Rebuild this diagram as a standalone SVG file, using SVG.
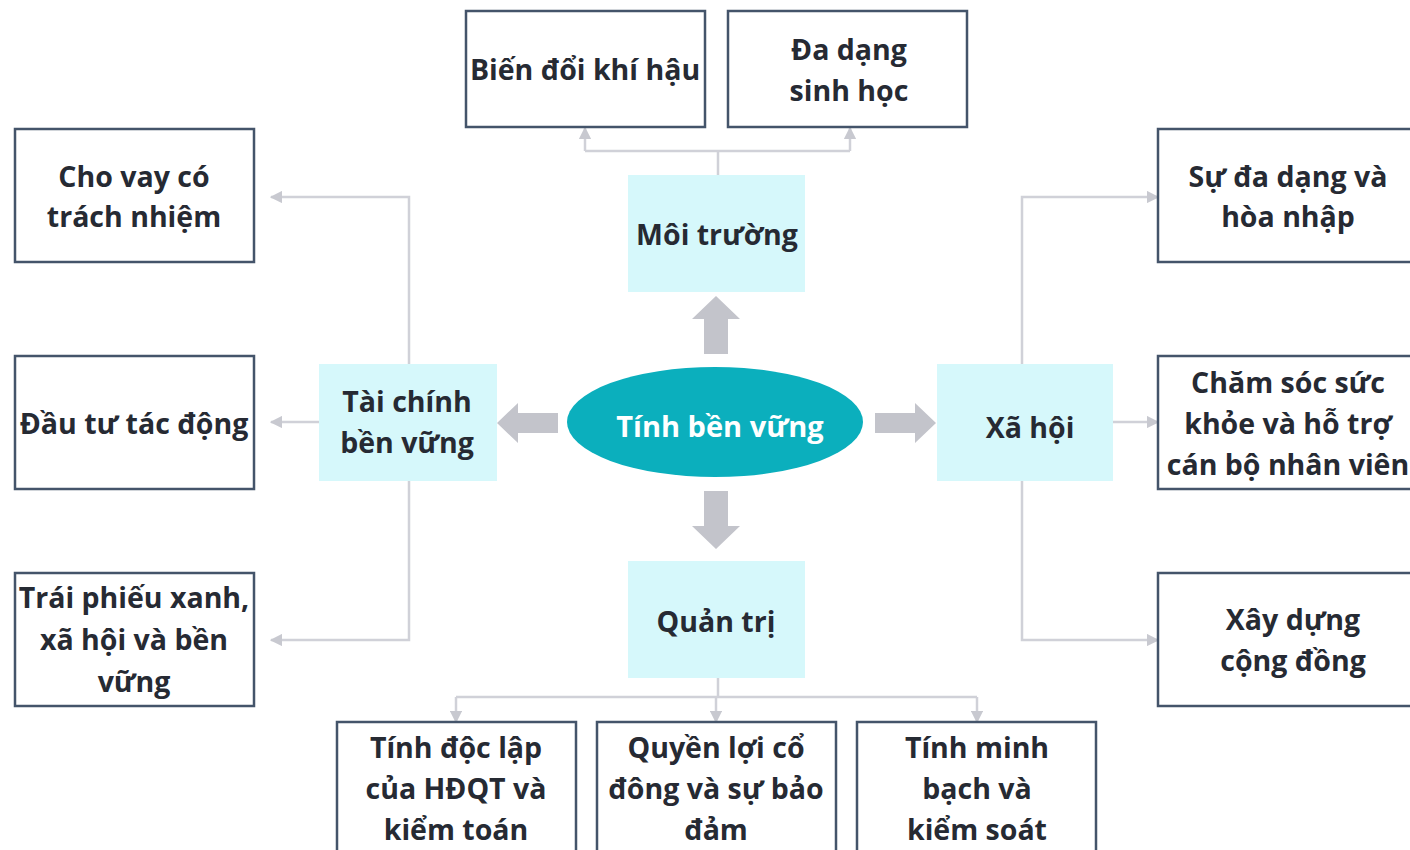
<svg xmlns="http://www.w3.org/2000/svg" width="1410" height="850" viewBox="0 0 1410 850">
<style>
.box{fill:#ffffff;stroke:#44546a;stroke-width:2.5}
.cat{fill:#d6f8fb;stroke:none}
.t{font-family:"Open Sans",Lato,"DejaVu Sans",sans-serif;font-weight:bold;font-size:28.5px;fill:#262a33;text-anchor:middle}
.w{fill:#ffffff;font-size:29px}
.ln{fill:none;stroke:#d0d1d8;stroke-width:2.5}
.blk{fill:#c3c4cb}
</style>
<defs>
<marker id="ah" viewBox="0 0 10 10" refX="9" refY="5" markerWidth="5" markerHeight="5" orient="auto" markerUnits="strokeWidth">
<path d="M0,0 L10,5 L0,10 z" fill="#c8c9d0"/>
</marker>
</defs>
<rect width="1410" height="850" fill="#ffffff"/>
<g id="connectors">
<path class="ln" d="M718,175 V151 M585,151 H850" />
<path class="ln" d="M585,151 V128" marker-end="url(#ah)"/>
<path class="ln" d="M850,151 V128" marker-end="url(#ah)"/>
<path class="ln" d="M409,364 V197 H271" marker-end="url(#ah)"/>
<path class="ln" d="M319,422 H271" marker-end="url(#ah)"/>
<path class="ln" d="M409,481 V640 H271" marker-end="url(#ah)"/>
<path class="ln" d="M1022,364 V197 H1158" marker-end="url(#ah)"/>
<path class="ln" d="M1113,422 H1158" marker-end="url(#ah)"/>
<path class="ln" d="M1022,481 V640 H1158" marker-end="url(#ah)"/>
<path class="ln" d="M718,678 V697 M456,697 H977" />
<path class="ln" d="M456,697 V722" marker-end="url(#ah)"/>
<path class="ln" d="M716,697 V722" marker-end="url(#ah)"/>
<path class="ln" d="M977,697 V722" marker-end="url(#ah)"/>
<polygon class="blk" points="716,296 740,319 728,319 728,354 704,354 704,319 692,319"/>
<polygon class="blk" points="716,549 740,526 728,526 728,491 704,491 704,526 692,526"/>
<polygon class="blk" points="497,423 518,403 518,413 558,413 558,433 518,433 518,443"/>
<polygon class="blk" points="936,423 915,403 915,413 875,413 875,433 915,433 915,443"/>
</g>
<g id="center">
<ellipse cx="715" cy="422" rx="148" ry="55" fill="#0bafbd"/>
<text class="t w" x="720" y="437">Tính bền vững</text>
</g>
<g id="moi-truong"><rect class="cat" x="628" y="175" width="177" height="117"/><text class="t" x="717" y="245">Môi trường</text></g>
<g id="tai-chinh"><rect class="cat" x="319" y="364" width="178" height="117"/><text class="t" x="407" y="412">Tài chính</text><text class="t" x="407" y="453">bền vững</text></g>
<g id="xa-hoi"><rect class="cat" x="937" y="364" width="176" height="117"/><text class="t" x="1030" y="438">Xã hội</text></g>
<g id="quan-tri"><rect class="cat" x="628" y="561" width="177" height="117"/><text class="t" x="716" y="632">Quản trị</text></g>
<g id="bien-doi"><rect class="box" x="466" y="11" width="239" height="116"/><text class="t" x="585" y="80">Biến đổi khí hậu</text></g>
<g id="da-dang"><rect class="box" x="728" y="11" width="239" height="116"/><text class="t" x="849" y="60">Đa dạng</text><text class="t" x="849" y="101">sinh học</text></g>
<g id="cho-vay"><rect class="box" x="15" y="129" width="239" height="133"/><text class="t" x="134" y="187">Cho vay có</text><text class="t" x="134" y="227">trách nhiệm</text></g>
<g id="dau-tu"><rect class="box" x="15" y="356" width="239" height="133"/><text class="t" x="134" y="434">Đầu tư tác động</text></g>
<g id="trai-phieu"><rect class="box" x="15" y="573" width="239" height="133"/><text class="t" x="134" y="608">Trái phiếu xanh,</text><text class="t" x="134" y="650">xã hội và bền</text><text class="t" x="134" y="692">vững</text></g>
<g id="su-da-dang"><rect class="box" x="1158" y="129" width="260" height="133"/><text class="t" x="1288" y="187">Sự đa dạng và</text><text class="t" x="1288" y="227">hòa nhập</text></g>
<g id="cham-soc"><rect class="box" x="1158" y="356" width="260" height="133"/><text class="t" x="1288" y="393">Chăm sóc sức</text><text class="t" x="1288" y="434">khỏe và hỗ trợ</text><text class="t" x="1288" y="475">cán bộ nhân viên</text></g>
<g id="xay-dung"><rect class="box" x="1158" y="573" width="260" height="133"/><text class="t" x="1293" y="630">Xây dựng</text><text class="t" x="1293" y="671">cộng đồng</text></g>
<g id="doc-lap"><rect class="box" x="337" y="722" width="239" height="140"/><text class="t" x="456" y="758">Tính độc lập</text><text class="t" x="456" y="799">của HĐQT và</text><text class="t" x="456" y="840">kiểm toán</text></g>
<g id="quyen-loi"><rect class="box" x="597" y="722" width="239" height="140"/><text class="t" x="716" y="758">Quyền lợi cổ</text><text class="t" x="716" y="799">đông và sự bảo</text><text class="t" x="716" y="840">đảm</text></g>
<g id="minh-bach"><rect class="box" x="857" y="722" width="239" height="140"/><text class="t" x="977" y="758">Tính minh</text><text class="t" x="977" y="799">bạch và</text><text class="t" x="977" y="840">kiểm soát</text></g>
</svg>
